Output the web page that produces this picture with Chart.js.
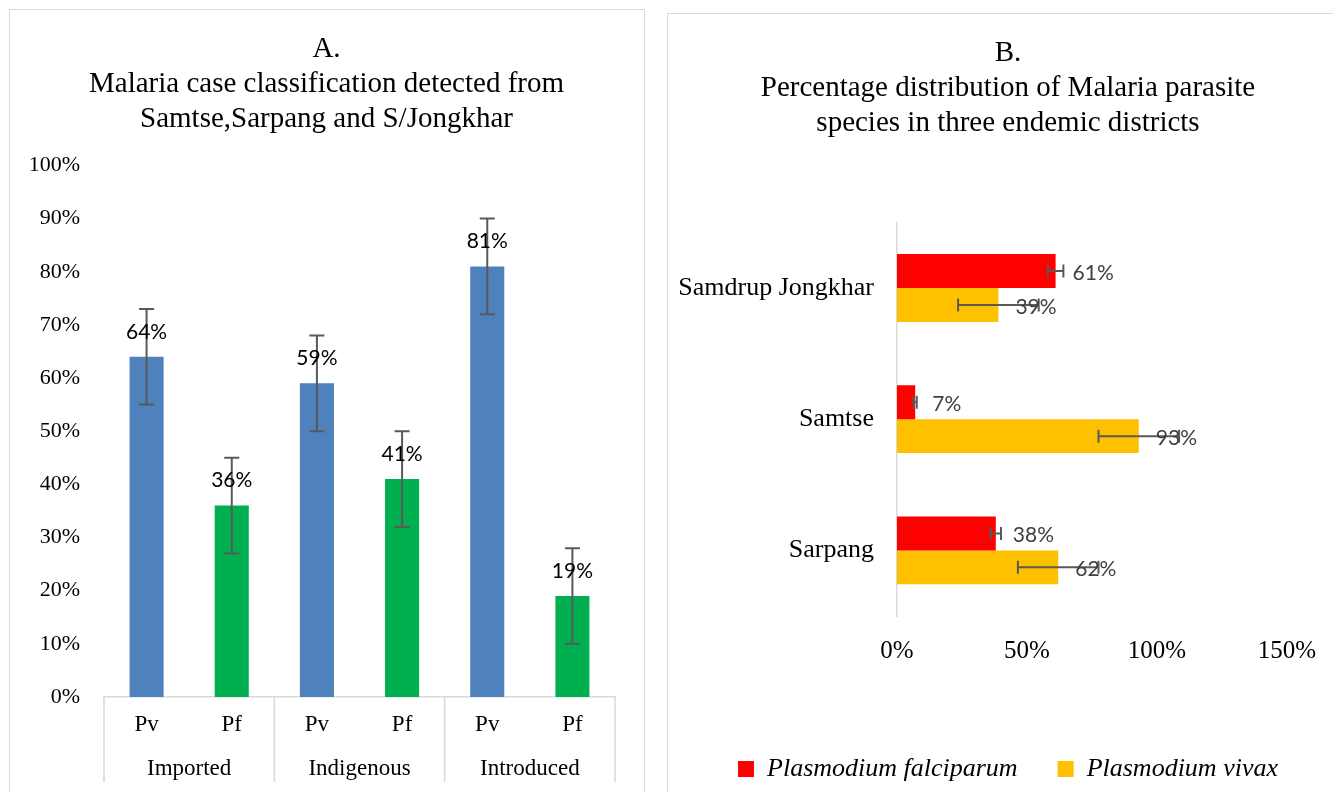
<!DOCTYPE html>
<html><head><meta charset="utf-8">
<script src="https://cdn.jsdelivr.net/npm/chart.js@4.4.1/dist/chart.umd.min.js"></script>
<style>
html,body{margin:0;padding:0;background:#fff;width:1333px;height:792px;overflow:hidden;position:relative}
.panel{position:absolute;border:1.5px solid #d9d9d9;box-sizing:border-box;background:#fff}
#pa{left:9px;top:9px;width:636px;height:800px}
#pb{left:667px;top:13px;width:700px;height:800px}
canvas{position:absolute}
</style></head><body>
<div class="panel" id="pa"></div><div class="panel" id="pb"></div>
<canvas id="ca" width="633" height="782" style="left:10px;top:10px"></canvas>
<canvas id="cb" width="680" height="778" style="left:668px;top:14px"></canvas>
<script>
// ---- Data: chart A ----
const caseCategories = ['Pv','Pf','Pv','Pf','Pv','Pf'];
const caseGroups = ['Imported','Indigenous','Introduced'];
const caseValues = [64,36,59,41,81,19];
const caseErrors = [9,9,9,9,9,9];
const titleA = ['A.','Malaria case classification detected from','Samtse,Sarpang and S/Jongkhar'];
// ---- Data: chart B ----
const districts = ['Samdrup Jongkhar','Samtse','Sarpang'];
const falciparum = [61,7,38];
const falciparumErr = [3,0.6,2];
const vivax = [39,93,62];
const vivaxErr = [15.5,15.5,15.5];
const titleB = ['B.','Percentage distribution of Malaria parasite','species in three endemic districts'];
const seriesNames = ['Plasmodium falciparum','Plasmodium vivax'];

const SERIF = "'Liberation Serif', 'Times New Roman', serif";
const SANS = "Lato, 'Open Sans', sans-serif";

const errorBarPlugin = {
  id:'errorBars',
  afterDatasetsDraw(chart, args, opts){
    const ctx = chart.ctx;
    chart.data.datasets.forEach((ds,di)=>{
      if(!ds.errors) return;
      const meta = chart.getDatasetMeta(di);
      meta.data.forEach((bar,i)=>{
        const v = ds.data[i], e = ds.errors[i], c = opts.cap;
        ctx.save();
        ctx.strokeStyle = opts.color; ctx.lineWidth = opts.width;
        ctx.beginPath();
        if(opts.horizontal){
          const s = chart.scales.x;
          const a = s.getPixelForValue(v-e), b = s.getPixelForValue(v+e), y = bar.y;
          ctx.moveTo(a,y); ctx.lineTo(b,y);
          ctx.moveTo(a,y-c); ctx.lineTo(a,y+c);
          ctx.moveTo(b,y-c); ctx.lineTo(b,y+c);
        } else {
          const s = chart.scales.y;
          const a = s.getPixelForValue(v-e), b = s.getPixelForValue(v+e), x = bar.x;
          ctx.moveTo(x,a); ctx.lineTo(x,b);
          ctx.moveTo(x-c,a); ctx.lineTo(x+c,a);
          ctx.moveTo(x-c,b); ctx.lineTo(x+c,b);
        }
        ctx.stroke(); ctx.restore();
      });
    });
  }
};

const labelPlugin = {
  id:'barLabels',
  afterDatasetsDraw(chart, args, opts){
    const ctx = chart.ctx;
    chart.data.datasets.forEach((ds,di)=>{
      const meta = chart.getDatasetMeta(di);
      meta.data.forEach((bar,i)=>{
        ctx.save();
        ctx.font = opts.font; ctx.fillStyle = opts.color;
        ctx.textBaseline = 'middle';
        const t = ds.data[i] + '%';
        if(opts.horizontal){
          ctx.textAlign = 'left';
          ctx.fillText(t, bar.x + opts.offset, bar.y + 2);
        } else {
          ctx.textAlign = 'center';
          ctx.fillText(t, bar.x, bar.y - opts.offset);
        }
        ctx.restore();
      });
    });
  }
};

const groupAxisPlugin = {
  id:'groupAxis',
  afterDraw(chart, args, opts){
    const ctx = chart.ctx, sx = chart.scales.x, top = chart.chartArea.bottom;
    const half = (sx.getPixelForValue(1) - sx.getPixelForValue(0))/2;
    ctx.save();
    ctx.strokeStyle = '#d9d9d9'; ctx.lineWidth = 1.5;
    ctx.beginPath();
    for(let g=0; g<=opts.groups.length; g++){
      const x = g < opts.groups.length ? sx.getPixelForValue(2*g) - half : sx.getPixelForValue(2*g-1) + half;
      ctx.moveTo(x, top); ctx.lineTo(x, opts.bottom);
    }
    ctx.stroke();
    ctx.font = opts.font; ctx.fillStyle = '#000'; ctx.textAlign='center'; ctx.textBaseline='alphabetic';
    opts.groups.forEach((g,i)=>{
      const x = (sx.getPixelForValue(2*i) + sx.getPixelForValue(2*i+1))/2;
      ctx.fillText(g, x, opts.baseline);
    });
    ctx.restore();
  }
};

const spacerAxis = (w) => ({
  type:'linear', position:'right', display:true,
  grid:{display:false, drawTicks:false}, border:{display:false}, ticks:{display:false},
  afterFit(s){ s.width = w; }
});

new Chart(document.getElementById('ca'), {
  type:'bar',
  data:{
    labels: caseCategories,
    datasets:[{
      data: caseValues,
      errors: caseErrors,
      backgroundColor: caseCategories.map(c => c==='Pv' ? '#4f81bd' : '#00b050'),
      categoryPercentage: 0.4, barPercentage: 1
    }]
  },
  options:{
    responsive:false, animation:false,
    layout:{padding:0},
    plugins:{
      legend:{display:false}, tooltip:{enabled:false},
      title:{display:true, text:titleA, color:'#000', font:{family:SERIF,size:29,weight:'normal',lineHeight:1.2}, padding:{top:22,bottom:29}},
      errorBars:{color:'#595959', width:2, cap:7.5, horizontal:false},
      barLabels:{font:'21px '+SANS, color:'#000', offset:25, horizontal:false},
      groupAxis:{groups:caseGroups, font:'23px '+SERIF, baseline:765, bottom:772}
    },
    scales:{
      x:{
        grid:{display:false, drawTicks:false},
        border:{display:true, color:'#d9d9d9', width:1.5},
        ticks:{color:'#000', font:{family:SERIF,size:23}, padding:14},
        afterFit(s){ s.height = 95; }
      },
      y:{
        min:0, max:100,
        grid:{display:false, drawTicks:false},
        border:{display:false},
        ticks:{stepSize:10, color:'#000', font:{family:SERIF,size:22}, padding:24, callback:v=>v+'%'},
        afterFit(s){ s.width = 94; }
      },
      yRight: spacerAxis(28)
    }
  },
  plugins:[errorBarPlugin, labelPlugin, groupAxisPlugin]
});

new Chart(document.getElementById('cb'), {
  type:'bar',
  data:{
    labels: districts,
    datasets:[
      {label:seriesNames[0], data:falciparum, errors:falciparumErr, backgroundColor:'#ff0000', categoryPercentage:0.517, barPercentage:1},
      {label:seriesNames[1], data:vivax, errors:vivaxErr, backgroundColor:'#ffc000', categoryPercentage:0.517, barPercentage:1}
    ]
  },
  options:{
    indexAxis:'y', responsive:false, animation:false,
    layout:{padding:0},
    plugins:{
      tooltip:{enabled:false},
      title:{display:true, text:titleB, color:'#000', font:{family:SERIF,size:29,weight:'normal',lineHeight:1.2}, padding:{top:22,bottom:82}},
      legend:{position:'bottom', labels:{boxWidth:16, boxHeight:16, padding:40, color:'#000', font:{family:SERIF,size:26,style:'italic'}}},
      errorBars:{color:'#595959', width:2, cap:6.5, horizontal:true},
      barLabels:{font:'21px '+SANS, color:'#404040', offset:17, horizontal:true}
    },
    scales:{
      x:{
        min:0, max:150,
        grid:{display:false, drawTicks:false},
        border:{display:false},
        ticks:{stepSize:50, color:'#000', font:{family:SERIF,size:25}, padding:20, callback:v=>v+'%'},
        afterFit(s){ s.height = 100; }
      },
      y:{
        grid:{display:false, drawTicks:false},
        border:{display:true, color:'#d9d9d9', width:1.5},
        ticks:{color:'#000', font:{family:SERIF,size:26}, padding:23},
        afterFit(s){ s.width = 229; }
      },
      yRight: spacerAxis(61)
    }
  },
  plugins:[errorBarPlugin, labelPlugin]
});
</script>
</body></html>
